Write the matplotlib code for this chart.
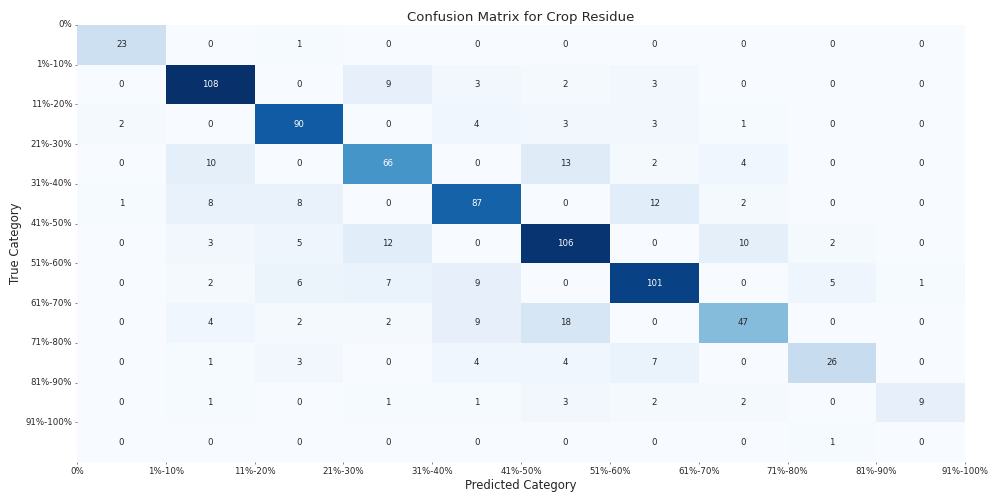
import numpy as np
import matplotlib
matplotlib.use("Agg")
import matplotlib.pyplot as plt
import seaborn as sns

labels = ["0%", "1%-10%", "11%-20%", "21%-30%", "31%-40%", "41%-50%",
          "51%-60%", "61%-70%", "71%-80%", "81%-90%", "91%-100%"]

row_0 = [23, 0, 1, 0, 0, 0, 0, 0, 0, 0]
row_1 = [0, 108, 0, 9, 3, 2, 3, 0, 0, 0]
row_2 = [2, 0, 90, 0, 4, 3, 3, 1, 0, 0]
row_3 = [0, 10, 0, 66, 0, 13, 2, 4, 0, 0]
row_4 = [1, 8, 8, 0, 87, 0, 12, 2, 0, 0]
row_5 = [0, 3, 5, 12, 0, 106, 0, 10, 2, 0]
row_6 = [0, 2, 6, 7, 9, 0, 101, 0, 5, 1]
row_7 = [0, 4, 2, 2, 9, 18, 0, 47, 0, 0]
row_8 = [0, 1, 3, 0, 4, 4, 7, 0, 26, 0]
row_9 = [0, 1, 0, 1, 1, 3, 2, 2, 0, 9]
row_10 = [0, 0, 0, 0, 0, 0, 0, 0, 1, 0]

cm = np.array([row_0, row_1, row_2, row_3, row_4, row_5,
               row_6, row_7, row_8, row_9, row_10])

fig = plt.figure(figsize=(9.9, 4.98), dpi=100)
ax = fig.add_axes([0.0778, 0.0723, 0.8972, 0.8777])
sns.heatmap(cm, annot=True, fmt="d", cmap="Blues", cbar=False, ax=ax,
            annot_kws={"fontsize": 6.2})
ax.set_xticks(np.arange(len(labels)))
ax.set_xticklabels(labels, fontsize=6.2, rotation=0)
ax.set_yticks(np.arange(len(labels)))
ax.set_yticklabels(labels, fontsize=6.2, rotation=0)
ax.tick_params(length=1.75, width=0.5, pad=1.75, color="#555555", labelcolor="#262626")
ax.set_xlabel("Predicted Category", fontsize=8.4, labelpad=2, color="#262626")
ax.set_ylabel("True Category", fontsize=8.4, labelpad=2, color="#262626")
ax.set_title("Confusion Matrix for Crop Residue", fontsize=9.5, pad=3, color="#262626")
fig.savefig("out.png", dpi=100)
